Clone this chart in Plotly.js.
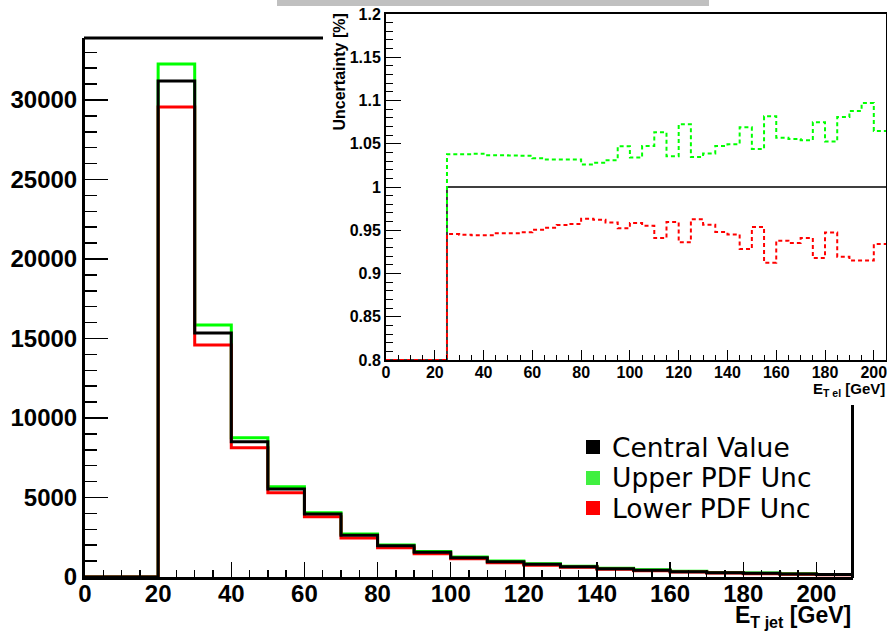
<!DOCTYPE html>
<html>
<head>
<meta charset="utf-8">
<script src="https://cdn.plot.ly/plotly-3.0.1.min.js"></script>
<style>html,body{margin:0;padding:0;background:#fff;}#plot{width:887px;height:633px;}</style>
</head>
<body>
<div id="plot"></div>
<script>
// ---------- Main histogram (10 GeV bins, E_T jet) ----------
const mainBinLow = [0,10,20,30,40,50,60,70,80,90,100,110,120,130,140,150,160,170,180,190,200];
const mainLastEdge = 210;
const mainCentral = [0,0,31200,15340,8510,5535,3960,2620,1970,1550,1215,963,795,650,525,420,335,270,230,190,155];
const mainUpper   = [0,0,32264,15850,8760,5680,4045,2700,2020,1610,1265,1010,840,680,555,450,355,290,248,208,165];
const mainLower   = [0,0,29560,14590,8130,5300,3790,2450,1845,1460,1140,890,745,615,490,390,312,250,212,175,145];
const mainXTicks = [0,20,40,60,80,100,120,140,160,180,200];
const mainXTickText = ["0","20","40","60","80","100","120","140","160","180","200"];
const mainYTicks = [0,5000,10000,15000,20000,25000,30000];
const mainYTickText = ["0","5000","10000","15000","20000","25000","30000"];

// ---------- Inset ratio histogram (5 GeV bins, E_T el) ----------
const insetBinLow = [0,5,10,15,20,25,30,35,40,45,50,55,60,65,70,75,80,85,90,95,100,105,110,115,120,125,130,135,140,145,150,155,160,165,170,175,180,185,190,195,200];
const insetLastEdge = 205;
const insetCentral = [0.8,0.8,0.8,0.8,0.8,1,1,1,1,1,1,1,1,1,1,1,1,1,1,1,1,1,1,1,1,1,1,1,1,1,1,1,1,1,1,1,1,1,1,1,1];
const insetUpper = [0.8,0.8,0.8,0.8,0.8,
  1.0378,1.038,1.0385,1.0367,1.0366,1.0363,1.036,1.0332,1.0317,1.0317,1.0317,1.026,1.028,1.031,1.0471,
  1.034,1.0475,1.0633,1.0355,1.0726,1.0347,1.0386,1.0475,1.0494,1.069,1.044,1.0818,1.057,1.0556,1.054,
  1.0749,1.0525,1.081,1.088,1.0972,1.0648];
const insetLower = [0.8,0.8,0.8,0.8,0.8,
  0.9456,0.9449,0.9441,0.9441,0.9464,0.9464,0.9476,0.9507,0.953,0.956,0.9572,0.9634,0.9622,0.9591,0.9522,
  0.9583,0.9553,0.941,0.9595,0.936,0.9626,0.9565,0.9479,0.9452,0.9282,0.9537,0.9125,0.938,0.9352,0.941,
  0.9178,0.9475,0.9194,0.9151,0.9151,0.934];
const insetXTicks = [0,20,40,60,80,100,120,140,160,180,200];
const insetXTickText = ["0","20","40","60","80","100","120","140","160","180","200"];
const insetYTicks = [0.8,0.85,0.9,0.95,1,1.05,1.1,1.15,1.2];
const insetYTickText = ["0.8","0.85","0.9","0.95","1","1.05","1.1","1.15","1.2"];

const legendNames = ["Central Value","Upper PDF Unc","Lower PDF Unc"];
const legendColors = ["#000000","#40f040","#ff0000"];

// build step arrays
function stepX(low, last){ return low.concat([last]); }
function stepY(v){ return v.concat([v[v.length-1]]); }

const W = 887, H = 633;
const px = x => x / W;
const py = y => 1 - y / H;

const FONT = "Liberation Sans, Arial, sans-serif";

const traces = [
  {x: stepX(mainBinLow, mainLastEdge), y: stepY(mainUpper), mode:'lines', line:{shape:'hv', color:'#00ff00', width:3}, xaxis:'x', yaxis:'y', hoverinfo:'skip'},
  {x: stepX(mainBinLow, mainLastEdge), y: stepY(mainLower), mode:'lines', line:{shape:'hv', color:'#ff0000', width:3}, xaxis:'x', yaxis:'y', hoverinfo:'skip'},
  {x: stepX(mainBinLow, mainLastEdge), y: stepY(mainCentral), mode:'lines', line:{shape:'hv', color:'#000000', width:3}, xaxis:'x', yaxis:'y', hoverinfo:'skip'},
  {x: stepX(insetBinLow, insetLastEdge), y: stepY(insetCentral), mode:'lines', line:{shape:'hv', color:'#000000', width:1.5}, xaxis:'x2', yaxis:'y2', hoverinfo:'skip'},
  {x: stepX(insetBinLow, insetLastEdge), y: stepY(insetUpper), mode:'lines', line:{shape:'hv', color:'#00ff00', width:2, dash:'4px,3px'}, xaxis:'x2', yaxis:'y2', hoverinfo:'skip'},
  {x: stepX(insetBinLow, insetLastEdge), y: stepY(insetLower), mode:'lines', line:{shape:'hv', color:'#ff0000', width:2, dash:'4px,3px'}, xaxis:'x2', yaxis:'y2', hoverinfo:'skip'}
];

const mainTickFont = {family: FONT, size: 24, color:'#000', weight: 'bold'};
const insetTickFont = {family: FONT, size: 16, color:'#000', weight: 'bold'};

const shapes = [
  // gray title bar remnant at top
  {type:'rect', xref:'paper', yref:'paper', x0:px(277), x1:px(709), y0:py(6), y1:1, fillcolor:'#c0c0c0', line:{width:0}, layer:'above'},
  // main frame top (visible part)
  {type:'line', xref:'paper', yref:'paper', x0:px(84), x1:px(323), y0:py(38), y1:py(38), line:{color:'#000', width:3}},
  // main frame right (visible part)
  {type:'line', xref:'paper', yref:'paper', x0:px(852.5), x1:px(852.5), y0:py(405), y1:py(578), line:{color:'#000', width:3}}
];

const annotations = [
  {xref:'paper', yref:'paper', x:px(853), y:py(633), xanchor:'right', yanchor:'bottom', showarrow:false,
   text:'E<sub>T jet</sub> [GeV]', font:{family:FONT, size:23, color:'#000', weight:'bold'}},
  {xref:'paper', yref:'paper', x:px(887), y:py(401), xanchor:'right', yanchor:'bottom', showarrow:false,
   text:'E<sub>T el</sub> [GeV]', font:{family:FONT, size:15, color:'#000', weight:'bold'}},
  {xref:'paper', yref:'paper', x:px(339), y:py(12), xanchor:'center', yanchor:'top', showarrow:false, textangle:-90,
   text:'Uncertainty [%]', font:{family:FONT, size:16, color:'#000', weight:'bold'}}
];

const legendRowY = [447, 478, 508];
for (let i = 0; i < legendNames.length; i++) {
  shapes.push({type:'rect', xref:'paper', yref:'paper', x0:px(586), x1:px(600), y0:py(legendRowY[i]+7), y1:py(legendRowY[i]-7),
    fillcolor:legendColors[i], line:{width:0}});
  annotations.push({xref:'paper', yref:'paper', x:px(610), y:py(legendRowY[i]), xanchor:'left', yanchor:'middle', showarrow:false,
    text:legendNames[i], font:{family:'DejaVu Sans, sans-serif', size:26.5, color:'#000'}});
}

const layout = {
  width: W, height: H,
  margin: {l:0, r:0, t:0, b:0},
  paper_bgcolor:'#fff', plot_bgcolor:'#fff',
  showlegend:false,
  xaxis: {domain:[px(85), px(853)], range:[0,210], anchor:'y', showgrid:false, zeroline:false,
    showline:true, linecolor:'#000', linewidth:3, ticklabeloverflow:'allow', ticklabelstandoff:-7,
    tickmode:'array', tickvals:mainXTicks, ticktext:mainXTickText, ticks:'inside', ticklen:15, tickwidth:1.5, tickcolor:'#000',
    minor:{tickmode:'linear', tick0:0, dtick:5, ticks:'inside', ticklen:7, tickwidth:1.5, tickcolor:'#000', showgrid:false},
    tickfont: mainTickFont, fixedrange:true},
  yaxis: {domain:[py(577), py(38)], range:[0,33900], anchor:'x', showgrid:false, zeroline:false,
    showline:true, linecolor:'#000', linewidth:3, ticklabeloverflow:'allow',
    tickmode:'array', tickvals:mainYTicks, ticktext:mainYTickText, ticks:'inside', ticklen:23, tickwidth:1.5, tickcolor:'#000',
    minor:{tickmode:'linear', tick0:0, dtick:1000, ticks:'inside', ticklen:12, tickwidth:1.5, tickcolor:'#000', showgrid:false},
    tickfont: mainTickFont, fixedrange:true},
  xaxis2: {domain:[px(386), px(886)], range:[0,205], anchor:'y2', showgrid:false, zeroline:false,
    showline:true, mirror:true, linecolor:'#000', linewidth:2, ticklabeloverflow:'allow', ticklabelstandoff:-3,
    tickmode:'array', tickvals:insetXTicks, ticktext:insetXTickText, ticks:'inside', ticklen:10, tickwidth:1, tickcolor:'#000',
    minor:{tickmode:'linear', tick0:0, dtick:5, ticks:'inside', ticklen:5, tickwidth:1, tickcolor:'#000', showgrid:false},
    tickfont: insetTickFont, fixedrange:true},
  yaxis2: {domain:[py(360), py(14)], range:[0.8,1.2], anchor:'x2', showgrid:false, zeroline:false,
    showline:true, mirror:true, linecolor:'#000', linewidth:2, ticklabeloverflow:'allow',
    tickmode:'array', tickvals:insetYTicks, ticktext:insetYTickText, ticks:'inside', ticklen:15, tickwidth:1, tickcolor:'#000',
    minor:{tickmode:'linear', tick0:0.8, dtick:0.01, ticks:'inside', ticklen:7, tickwidth:1, tickcolor:'#000', showgrid:false},
    tickfont: insetTickFont, fixedrange:true},
  shapes: shapes,
  annotations: annotations
};

Plotly.newPlot('plot', traces, layout, {displayModeBar:false, staticPlot:true});
</script>
</body>
</html>
